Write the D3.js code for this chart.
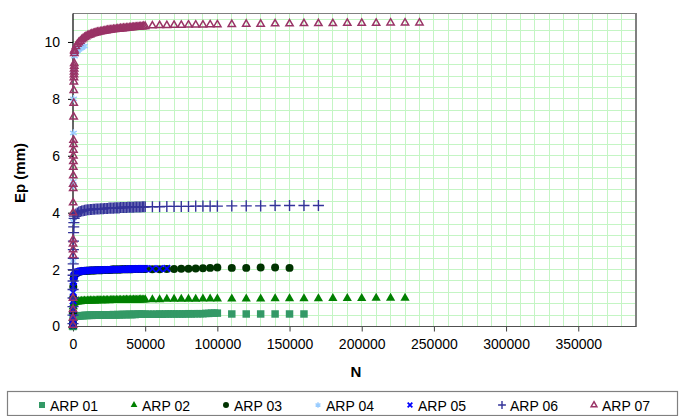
<!DOCTYPE html>
<html><head><meta charset="utf-8">
<script src="https://cdn.jsdelivr.net/npm/d3@7"></script>
<style>
body{margin:0;background:#fff}
svg{display:block}
text{font-family:"Liberation Sans",Arial,sans-serif;fill:#000}
</style>
</head><body>
<svg id="chart" width="684" height="416"></svg>
<script>
// ---------- DATA ----------
const xTicks = [0, 50000, 100000, 150000, 200000, 250000, 300000, 350000];
const yTicks = [0, 2, 4, 6, 8, 10];
const seriesNames = ["ARP 01", "ARP 02", "ARP 03", "ARP 04", "ARP 05", "ARP 06", "ARP 07"];

// cycles of the dense part of each test (shared)
const denseN = [1000,2000,3000,4000,5000,6000,7000,8000,9000,10000,
  11000,12000,13000,14000,15000,16000,17000,18000,19000,20000,
  21000,22000,23000,24000,25000,26000,27000,28000,29000,30000,
  31000,32000,33000,34000,35000,36000,37000,38000,39000,40000,
  41000,42000,43000,44000,45000,46000,47000,48000,49000,50000];

// ARP 01
const arp01Early = [[0,0.0],[10,0.12],[100,0.22],[200,0.3],[500,0.34]];
const arp01Dense = [0.35,0.36,0.37,0.37,0.38,0.38,0.38,0.39,0.39,0.39,
  0.39,0.40,0.39,0.40,0.40,0.40,0.40,0.41,0.40,0.40,
  0.41,0.40,0.41,0.41,0.41,0.41,0.41,0.42,0.41,0.41,
  0.42,0.41,0.42,0.42,0.42,0.42,0.42,0.42,0.43,0.42,
  0.42,0.43,0.42,0.43,0.43,0.43,0.43,0.43,0.43,0.43];
const arp01Late = [[52000,0.43],[54000,0.43],[56000,0.43],[58000,0.43],[60000,0.44],[62000,0.43],
  [64000,0.44],[66000,0.44],[68000,0.44],[70000,0.44],[72000,0.44],[74000,0.44],[76000,0.44],
  [78000,0.44],[80000,0.45],[82000,0.44],[84000,0.45],[86000,0.45],[88000,0.45],[90000,0.45],
  [92000,0.46],[94000,0.46],[96000,0.47],[98000,0.47],[100000,0.47],
  [110000,0.44],[120000,0.44],[130000,0.44],[140000,0.44],[150000,0.44],[160000,0.44]];

// ARP 02
const arp02Early = [[0,0.0],[10,0.3],[100,0.55],[200,0.7],[500,0.8]];
const arp02Dense = [0.84,0.86,0.87,0.88,0.88,0.89,0.89,0.90,0.89,0.90,
  0.90,0.91,0.90,0.91,0.90,0.91,0.91,0.92,0.91,0.91,
  0.92,0.91,0.92,0.92,0.91,0.92,0.93,0.92,0.92,0.93,
  0.92,0.93,0.93,0.92,0.93,0.93,0.94,0.93,0.93,0.94,
  0.93,0.94,0.94,0.93,0.94,0.94,0.95,0.94,0.94,0.95];
const arp02Late = [[55000,0.95],[60000,0.95],[65000,0.96],[70000,0.96],[75000,0.96],[80000,0.96],
  [85000,0.96],[90000,0.97],[95000,0.97],[100000,0.97],
  [110000,0.97],[120000,0.97],[130000,0.97],[140000,0.98],[150000,0.98],[160000,0.98],
  [170000,0.98],[180000,0.99],[190000,0.99],[200000,0.99],[210000,1.0],[220000,1.0],[230000,1.0]];

// ARP 03
const arp03Early = [[0,0.1],[20,0.5],[100,1.0],[200,1.4],[500,1.7]];
const arp03Dense = [1.80,1.86,1.90,1.92,1.93,1.94,1.95,1.95,1.96,1.96,
  1.96,1.97,1.97,1.97,1.97,1.98,1.98,1.98,1.98,1.98,
  1.99,1.99,1.99,1.99,1.99,1.99,2.00,2.00,2.00,2.00,
  2.00,2.00,2.00,2.01,2.01,2.01,2.01,2.01,2.01,2.01,
  2.01,2.02,2.02,2.02,2.02,2.02,2.02,2.02,2.02,2.02];
const arp03Late = [[55000,2.01],[60000,2.01],[65000,2.02],[70000,2.02],[75000,2.03],[80000,2.03],
  [85000,2.04],[90000,2.05],[95000,2.06],[100000,2.07],
  [110000,2.06],[120000,2.06],[130000,2.07],[140000,2.07],[150000,2.06]];

// ARP 04
const arp04Early = [[0,0.34],[30,1.2],[60,2.3],[100,3.7],[150,4.95],[200,5.1],[300,6.8],
  [400,8.0],[600,9.0],[1000,9.5],[2000,9.6],[3000,9.68],[4000,9.74],[5000,9.78],
  [6000,9.81],[7000,9.84],[8000,9.86]];
const arp04Dense = [];
const arp04Late = [];

// ARP 05
const arp05Early = [[0,0.05],[10,0.15],[20,0.3],[50,0.6],[100,0.9],[150,1.2],[200,1.4],[300,1.6],[500,1.75]];
const arp05Dense = [1.80,1.87,1.91,1.93,1.94,1.95,1.95,1.96,1.96,1.97,
  1.97,1.97,1.98,1.97,1.98,1.98,1.98,1.99,1.98,1.99,
  1.99,1.99,1.99,2.00,1.99,2.00,2.00,2.00,2.00,2.01,
  2.00,2.01,2.01,2.01,2.01,2.01,2.02,2.01,2.02,2.02,
  2.02,2.02,2.02,2.02,2.03,2.02,2.03,2.03,2.03,2.03];
const arp05Late = [[55000,2.03],[60000,2.03],[65000,2.04]];

// ARP 06
const arp06Early = [[0,0.1],[10,0.4],[20,0.7],[40,1.0],[60,1.3],[80,1.6],[100,1.8],[130,2.0],
  [160,2.2],[200,2.4],[250,2.7],[300,3.0],[400,3.3],[500,3.5],[600,3.65],[800,3.8]];
const arp06Dense = [3.88,3.95,3.99,4.02,4.04,4.06,4.07,4.08,4.09,4.10,
  4.10,4.11,4.11,4.12,4.12,4.13,4.13,4.13,4.14,4.14,
  4.14,4.15,4.15,4.15,4.16,4.16,4.16,4.16,4.17,4.17,
  4.17,4.17,4.18,4.18,4.18,4.18,4.18,4.19,4.19,4.19,
  4.19,4.19,4.20,4.20,4.20,4.20,4.20,4.21,4.21,4.21];
const arp06Late = [[55000,4.21],[60000,4.21],[65000,4.22],[70000,4.22],[75000,4.22],[80000,4.22],
  [85000,4.23],[90000,4.23],[95000,4.23],[100000,4.23],
  [110000,4.24],[120000,4.24],[130000,4.24],[140000,4.25],[150000,4.25],[160000,4.25],[170000,4.25]];

// ARP 07
const arp07Early = [[0,0.05],[5,0.3],[10,0.6],[20,1.0],[40,2.5],[50,2.7],[60,2.9],[70,3.05],
  [100,4.0],[120,4.35],[150,4.85],[170,5.0],[200,5.3],[230,5.6],[260,5.8],[290,6.0],[320,6.2],
  [350,6.4],[380,6.55],[450,7.37],[500,7.85],[550,8.3],[600,8.6],[650,8.75],[700,8.85],
  [750,8.95],[800,9.05],[850,9.15],[880,9.25],[900,9.6],[950,9.68]];
const arp07Dense = [9.72,9.84,9.92,9.98,10.03,10.08,10.12,10.16,10.19,10.22,
  10.24,10.26,10.28,10.30,10.31,10.33,10.34,10.35,10.36,10.37,
  10.38,10.39,10.40,10.41,10.42,10.42,10.43,10.44,10.44,10.45,
  10.46,10.46,10.47,10.47,10.48,10.48,10.49,10.49,10.50,10.50,
  10.51,10.51,10.52,10.52,10.53,10.53,10.54,10.54,10.55,10.55];
const arp07Late = [[55000,10.57],[60000,10.58],[65000,10.58],[70000,10.59],[75000,10.59],[80000,10.60],
  [85000,10.60],[90000,10.60],[95000,10.61],[100000,10.61],
  [110000,10.62],[120000,10.63],[130000,10.63],[140000,10.64],[150000,10.64],[160000,10.65],
  [170000,10.65],[180000,10.65],[190000,10.66],[200000,10.66],[210000,10.66],[220000,10.67],
  [230000,10.67],[240000,10.67]];

// ---------- CHART ----------
const svg = d3.select("#chart");
const plot = {l: 73, r: 636, t: 13.5, b: 326.5};
const x = d3.scaleLinear().domain([0, 390000]).range([plot.l, plot.r]);
const y = d3.scaleLinear().domain([0, 11]).range([plot.b, plot.t]);

// gridlines
const g = svg.append("g").attr("shape-rendering", "crispEdges");
const vGrid = d3.range(1, 39).map(i => i * 10000);
const hGrid = d3.range(1, 28).map(i => +(i * 0.4).toFixed(1));
g.selectAll(".vg").data(vGrid).join("line")
  .attr("x1", d => x(d)).attr("x2", d => x(d))
  .attr("y1", plot.t).attr("y2", plot.b)
  .attr("stroke", "#c4f5c4").attr("stroke-width", 1);
g.selectAll(".hg").data(hGrid).join("line")
  .attr("x1", plot.l).attr("x2", plot.r)
  .attr("y1", d => y(d)).attr("y2", d => y(d))
  .attr("stroke", "#c4f5c4").attr("stroke-width", 1);

// plot border (top / right)
g.append("path")
  .attr("d", `M${plot.l},${plot.t}H${plot.r}V${plot.b}`)
  .attr("fill", "none").attr("stroke", "#808080").attr("stroke-width", 1.3);

// axes
const yAxis = d3.axisLeft(y).tickValues(yTicks).tickSize(5).tickSizeOuter(0).tickPadding(8);
const xAxis = d3.axisBottom(x).tickValues(xTicks).tickSize(5).tickSizeOuter(0).tickPadding(8)
  .tickFormat(d3.format("d"));

const ya = svg.append("g").attr("transform", `translate(${plot.l},0)`).call(yAxis);
ya.select(".domain").remove();
ya.selectAll("line").attr("stroke", "#000");
ya.selectAll("text").style("font-size", "14px").style("font-family", '"Liberation Sans",Arial,sans-serif');

const xa = svg.append("g").attr("transform", `translate(0,${plot.b})`).call(xAxis);
xa.select(".domain").remove();
xa.selectAll("line").attr("stroke", "#404040");
xa.selectAll("text").style("font-size", "14px").style("font-family", '"Liberation Sans",Arial,sans-serif');

svg.append("line").attr("x1", plot.l).attr("x2", plot.r).attr("y1", plot.b).attr("y2", plot.b)
  .attr("stroke", "#505050").attr("stroke-width", 1.2);
svg.append("line").attr("x1", plot.l).attr("x2", plot.l).attr("y1", plot.t).attr("y2", plot.b)
  .attr("stroke", "#000").attr("stroke-width", 1.2);

// series definitions
const series = [
  {name: seriesNames[0], color: "#339966", type: d3.symbolSquare, size: 56, lsize: 36, fill: true, early: arp01Early, dense: arp01Dense, late: arp01Late},
  {name: seriesNames[1], color: "#008000", type: d3.symbolTriangle, size: 37, lsize: 20, fill: true, early: arp02Early, dense: arp02Dense, late: arp02Late},
  {name: seriesNames[2], color: "#003300", type: d3.symbolCircle, size: 50, lsize: 28, fill: true, early: arp03Early, dense: arp03Dense, late: arp03Late},
  {name: seriesNames[3], color: "#99ccff", type: d3.symbolAsterisk, size: 40, lsize: 22, fill: false, sw: 1.4, early: arp04Early, dense: arp04Dense, late: arp04Late},
  {name: seriesNames[4], color: "#0000ff", type: d3.symbolTimes, size: 30, lsize: 16, fill: false, sw: 1.8, early: arp05Early, dense: arp05Dense, late: arp05Late},
  {name: seriesNames[5], color: "#333399", type: d3.symbolPlus, size: 42, lsize: 22, fill: false, sw: 1.4, early: arp06Early, dense: arp06Dense, late: arp06Late},
  {name: seriesNames[6], color: "#993366", type: d3.symbolTriangle2, size: 38, lsize: 24, fill: false, sw: 1.5, early: arp07Early, dense: arp07Dense, late: arp07Late}
];

function points(s) {
  return s.early.concat(s.dense.map((v, i) => [denseN[i], v]), s.late);
}

const marks = svg.append("g");
series.forEach(s => {
  const sym = d3.symbol().type(s.type).size(s.size);
  marks.append("g").selectAll("path").data(points(s)).join("path")
    .attr("d", sym)
    .attr("transform", d => `translate(${x(d[0])},${y(d[1])})`)
    .attr("fill", s.fill ? s.color : "none")
    .attr("stroke", s.fill ? "none" : s.color)
    .attr("stroke-width", s.fill ? 0 : s.sw);
});

// axis titles
svg.append("text").attr("x", 356).attr("y", 377).attr("text-anchor", "middle")
  .style("font-size", "15px").style("font-weight", "bold").text("N");
svg.append("text").attr("transform", "translate(25,173) rotate(-90)").attr("text-anchor", "middle")
  .style("font-size", "15px").style("font-weight", "bold").text("Ep (mm)");

// legend
svg.append("rect").attr("x", 7.5).attr("y", 391.5).attr("width", 670).attr("height", 24)
  .attr("fill", "#fff").attr("stroke", "#808080").attr("stroke-width", 1.2);
const lg = svg.append("g");
series.forEach((s, i) => {
  const cx = 42 + i * 92;
  lg.append("path")
    .attr("d", d3.symbol().type(s.type).size(s.lsize))
    .attr("transform", `translate(${cx},${405})`)
    .attr("fill", s.fill ? s.color : "none")
    .attr("stroke", s.fill ? "none" : s.color)
    .attr("stroke-width", s.fill ? 0 : s.sw);
  lg.append("text").attr("x", cx + 8).attr("y", 410.5)
    .style("font-size", "14px").text(s.name);
});
</script>
</body></html>
